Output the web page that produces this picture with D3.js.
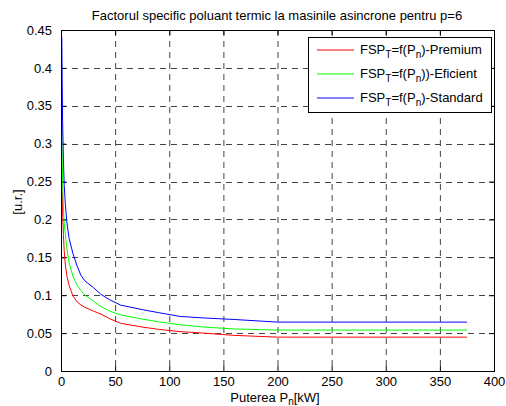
<!DOCTYPE html>
<html><head><meta charset="utf-8">
<script src="https://cdn.jsdelivr.net/npm/d3@7"></script>
<style>body{margin:0;background:#fff}svg{display:block}text{font-family:"Liberation Sans",Arial,sans-serif}</style>
</head><body>
<svg id="c" width="506" height="406"></svg>
<script>
const power = [0.75,1.1,1.5,2.2,3,4,5.5,7.5,11,15,18.5,22,30,37,45,55,75,90,110,132,160,200,250,315,355,375];
const premium = [0.27,0.24,0.21,0.18,0.158,0.14,0.125,0.113,0.099,0.091,0.087,0.084,0.079,0.075,0.069,0.063,0.058,0.055,0.052,0.050,0.047,0.0447,0.0447,0.0447,0.0447,0.0447];
const eficient = [0.32,0.28,0.25,0.215,0.195,0.18,0.16,0.143,0.125,0.113,0.106,0.100,0.092,0.085,0.079,0.074,0.0685,0.065,0.061,0.058,0.0555,0.054,0.054,0.054,0.054,0.054];
const standard = [0.44,0.38,0.33,0.28,0.245,0.22,0.195,0.175,0.155,0.138,0.126,0.119,0.110,0.101,0.094,0.087,0.081,0.077,0.072,0.070,0.068,0.0645,0.0645,0.0645,0.0645,0.0645];
const xTicks = [0,50,100,150,200,250,300,350,400];
const yTicks = [0,0.05,0.1,0.15,0.2,0.25,0.3,0.35,0.4,0.45];
const seriesNames = ["Premium","Eficient","Standard"];
const seriesColors = ["#ff0000","#00ff00","#0000ff"];
const seriesData = [premium, eficient, standard];

const FS = 13, SFS = 10;
const svg = d3.select("#c");
const L=61, R=494, T=30, B=371;
const x = d3.scaleLinear().domain([0,400]).range([L,R]);
const y = d3.scaleLinear().domain([0,0.45]).range([B,T]);

// grid
const g = svg.append("g");
g.selectAll(".gx").data(xTicks.slice(1,-1)).enter().append("line")
  .attr("x1",d=>x(d)+0.5).attr("x2",d=>x(d)+0.5).attr("y1",T).attr("y2",B)
  .attr("stroke","#444").attr("stroke-width",1).attr("stroke-dasharray","6,5");
g.selectAll(".gy").data(yTicks.slice(1,-1)).enter().append("line")
  .attr("y1",d=>Math.round(y(d))+0.5).attr("y2",d=>Math.round(y(d))+0.5).attr("x1",L).attr("x2",R)
  .attr("stroke","#444").attr("stroke-width",1).attr("stroke-dasharray","6,5");

// axes
const fmt = d=>String(d);
svg.append("g").attr("transform",`translate(0,${B})`)
  .call(d3.axisBottom(x).tickValues(xTicks).tickSizeInner(-5).tickSizeOuter(0).tickPadding(6).tickFormat(fmt));
svg.append("g").attr("transform",`translate(0,${T})`).call(d3.axisTop(x).tickValues(xTicks).tickSizeInner(-5).tickSizeOuter(0).tickFormat(""));
const yl = svg.append("g").attr("transform",`translate(${L},0)`)
  .call(d3.axisLeft(y).tickValues(yTicks).tickSizeInner(-5).tickSizeOuter(0).tickPadding(8).tickFormat(fmt));
svg.append("g").attr("transform",`translate(${R},0)`).call(d3.axisRight(y).tickValues(yTicks).tickSizeInner(-5).tickSizeOuter(0).tickFormat(""));
svg.selectAll(".domain").attr("stroke","#000");
svg.selectAll(".tick line").attr("stroke","#000");
svg.selectAll(".tick text").attr("font-size",FS).attr("fill","#000").attr("font-family","Liberation Sans, Arial, sans-serif");
yl.selectAll(".tick text").attr("dx",-1);

// lines
const line = d3.line().x((d,i)=>x(power[i])).y(d=>y(d));
seriesData.forEach((s,k)=>{
  svg.append("path").datum(s).attr("d",line).attr("fill","none")
    .attr("stroke",seriesColors[k]).attr("stroke-width",1);
});

// box border
svg.append("rect").attr("x",L+0.5).attr("y",T+0.5).attr("width",R-L).attr("height",B-T)
  .attr("fill","none").attr("stroke","#000").attr("stroke-width",1);

// legend
const lg = svg.append("g");
lg.append("rect").attr("x",308.5).attr("y",37.5).attr("width",183).attr("height",75)
  .attr("fill","#fff").attr("stroke","#000");
const suffix = ["-Premium",")-Eficient","-Standard"];
seriesNames.forEach((n,k)=>{
  const yy = 50 + k*24;
  lg.append("line").attr("x1",317).attr("x2",354).attr("y1",yy).attr("y2",yy)
    .attr("stroke",seriesColors[k]).attr("stroke-width",1);
  const t = lg.append("text").attr("x",360).attr("y",yy+4).attr("font-size",FS);
  t.append("tspan").text("FSP");
  t.append("tspan").attr("font-size",SFS).attr("dy",4).text("T");
  t.append("tspan").attr("dy",-4).text("=f(P");
  t.append("tspan").attr("font-size",SFS).attr("dy",4).text("n");
  t.append("tspan").attr("dy",-4).text(")"+suffix[k]);
});

// title and labels
svg.append("text").attr("x",277).attr("y",20).attr("text-anchor","middle").attr("font-size",FS)
  .text("Factorul specific poluant termic la masinile asincrone pentru p=6");
const xl = svg.append("text").attr("x",275).attr("y",402).attr("text-anchor","middle").attr("font-size",FS);
xl.append("tspan").text("Puterea P");
xl.append("tspan").attr("font-size",SFS).attr("dy",3).text("n");
xl.append("tspan").attr("dy",-3).text("[kW]");
svg.append("text").attr("transform","translate(22,202) rotate(-90)").attr("text-anchor","middle").attr("font-size",FS)
  .text("[u.r.]");
</script>
</body></html>
